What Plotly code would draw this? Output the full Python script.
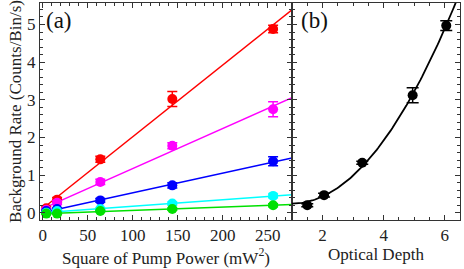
import numpy as np
import plotly.graph_objects as go

# ---- data: panel (a) ----
pump_sq = [4, 16, 64, 144, 256]
red_y = [0.12, 0.35, 1.42, 3.02, 4.88]
red_e = [0.05, 0.06, 0.08, 0.20, 0.10]
mag_y = [0.08, 0.27, 0.82, 1.78, 2.75]
mag_e = [0.03, 0.05, 0.07, 0.08, 0.20]
blue_y = [0.05, 0.10, 0.33, 0.73, 1.37]
blue_e = [0.02, 0.03, 0.05, 0.07, 0.12]
cyan_y = [0.00, 0.05, 0.10, 0.25, 0.45]
cyan_e = [0.02, 0.02, 0.03, 0.04, 0.05]
green_y = [-0.02, -0.02, 0.05, 0.10, 0.20]
green_e = [0.02, 0.02, 0.02, 0.03, 0.04]

# ---- data: panel (b) ----
od_x = [1.5, 2.05, 3.3, 4.95, 6.05]
od_y = [0.20, 0.47, 1.33, 3.12, 4.97]
od_e = [0.04, 0.05, 0.04, 0.20, 0.13]

series = [
    (red_y, red_e, "#ff0000"),
    (mag_y, mag_e, "#ff00ff"),
    (blue_y, blue_e, "#0000ff"),
    (cyan_y, cyan_e, "#00ffff"),
    (green_y, green_e, "#00e000"),
]

FONT = "Liberation Serif, Times New Roman, serif"
fig = go.Figure()

xfit = np.linspace(0, 277, 50)
for ys, es, c in series:
    k, b = np.polyfit(pump_sq, ys, 1)
    fig.add_trace(go.Scatter(x=xfit, y=k * xfit + b, mode="lines",
                             line=dict(color=c, width=1.5),
                             xaxis="x", yaxis="y", showlegend=False, hoverinfo="skip"))
for ys, es, c in series:
    fig.add_trace(go.Scatter(x=pump_sq, y=ys, mode="markers",
                             marker=dict(color=c, size=10),
                             error_y=dict(type="data", array=es, color=c, thickness=1.5, width=5),
                             xaxis="x", yaxis="y", showlegend=False))

# panel b fit: y = a (x-1)^2 + c
od_u = [(v - 1.0) ** 2 for v in od_x]
a, c0 = np.polyfit(od_u, od_y, 1)
xb = np.linspace(1.0, 6.5, 120)
fig.add_trace(go.Scatter(x=xb, y=a * (xb - 1.0) ** 2 + c0, mode="lines",
                         line=dict(color="black", width=1.8),
                         xaxis="x2", yaxis="y2", showlegend=False, hoverinfo="skip"))
fig.add_trace(go.Scatter(x=od_x, y=od_y, mode="markers",
                         marker=dict(color="black", size=10),
                         error_y=dict(type="data", array=od_e, color="black", thickness=1.5, width=6),
                         xaxis="x2", yaxis="y2", showlegend=False))

axis_common = dict(showline=True, linecolor="#333", linewidth=1, mirror="ticks",
                   ticks="inside", ticklen=5, tickcolor="#333", showgrid=False, zeroline=False,
                   tickfont=dict(family=FONT, size=17, color="#222"))
TF = dict(family=FONT, size=17, color="#222")

yr = [-0.19, 5.57]
fig.update_layout(
    width=464, height=269,
    margin=dict(l=40, r=4, t=3, b=49),
    paper_bgcolor="white", plot_bgcolor="white",
    xaxis=dict(domain=[0, 0.6], range=[-3, 277], tickvals=[0, 50, 100, 150, 200, 250],
               minor=dict(ticks="inside", dtick=10, ticklen=3, tickcolor="#333"),
               title=dict(text="Square of Pump Power (mW<sup>2</sup>)", standoff=3, font=TF),
               anchor="y", **axis_common),
    yaxis=dict(domain=[0, 1], range=yr, tickvals=[0, 1, 2, 3, 4, 5],
               minor=dict(ticks="inside", dtick=0.2, ticklen=3, tickcolor="#333"),
               title=dict(text="Background Rate (Counts/Bin/s)", standoff=1, font=TF),
               anchor="x", **axis_common),
    xaxis2=dict(domain=[0.6, 1], range=[1, 6.5], tickvals=[2, 4, 6],
                minor=dict(ticks="inside", dtick=0.5, ticklen=3, tickcolor="#333"),
                title=dict(text="Optical Depth", standoff=3, font=TF),
                anchor="y2", **axis_common),
    yaxis2=dict(domain=[0, 1], range=yr, tickvals=[0, 1, 2, 3, 4, 5], showticklabels=False,
                minor=dict(ticks="inside", dtick=0.2, ticklen=3, tickcolor="#333"),
                anchor="x2", **axis_common),
    annotations=[
        dict(text="(a)", xref="x domain", yref="y domain", x=0.015, y=0.985,
             xanchor="left", yanchor="top", showarrow=False,
             font=dict(family=FONT, size=23, color="#111")),
        dict(text="(b)", xref="x2 domain", yref="y2 domain", x=0.04, y=0.985,
             xanchor="left", yanchor="top", showarrow=False,
             font=dict(family=FONT, size=23, color="#111")),
    ],
)

fig.write_html("out.html", config={"displayModeBar": False},
               post_script="document.body.style.margin='0px';")
